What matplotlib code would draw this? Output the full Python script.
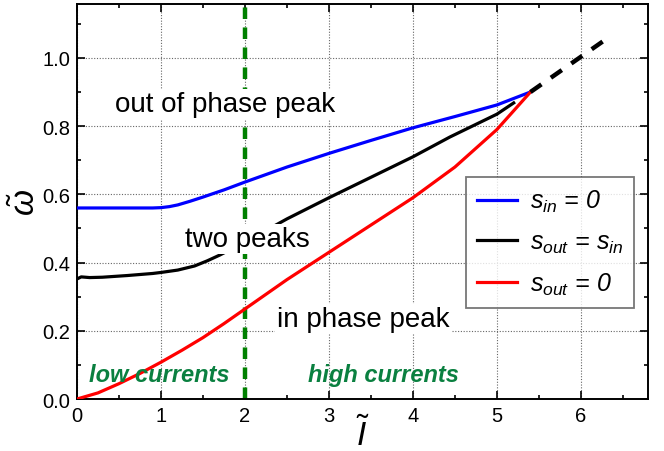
import matplotlib
matplotlib.use("Agg")
import matplotlib.pyplot as plt
from matplotlib.ticker import MultipleLocator

plt.rcParams['font.family'] = ['Liberation Sans', 'DejaVu Sans']
plt.rcParams['mathtext.fontset'] = 'custom'
plt.rcParams['mathtext.rm'] = 'Liberation Sans'
plt.rcParams['mathtext.it'] = 'Liberation Sans:italic'
plt.rcParams['mathtext.bf'] = 'Liberation Sans:bold'

# Data
blue_x = [0.0, 0.5, 0.9, 1.0, 1.1, 1.2, 1.35, 1.5, 1.75, 2.0, 2.5, 3.0, 3.5, 4.0, 4.5, 5.0, 5.4]
blue_y = [0.56, 0.56, 0.56, 0.561, 0.564, 0.569, 0.58, 0.592, 0.613, 0.636, 0.68, 0.72, 0.758, 0.795, 0.828, 0.862, 0.90]

black_x = [0.0, 0.05, 0.15, 0.3, 0.6, 0.9, 1.0, 1.2, 1.4, 1.55, 1.7, 2.0, 2.5, 3.0, 3.5, 4.0, 4.44, 5.0, 5.2]
black_y = [0.352, 0.358, 0.356, 0.357, 0.362, 0.368, 0.371, 0.378, 0.39, 0.405, 0.422, 0.46, 0.528, 0.59, 0.65, 0.71, 0.768, 0.835, 0.868]

red_x = [0.0, 0.25, 0.5, 0.75, 1.0, 1.25, 1.5, 1.75, 2.0, 2.5, 3.0, 3.5, 4.0, 4.5, 5.0, 5.4]
red_y = [0.0, 0.018, 0.045, 0.075, 0.108, 0.143, 0.18, 0.221, 0.264, 0.35, 0.43, 0.51, 0.59, 0.68, 0.79, 0.90]

dash_x = [5.4, 6.33]
dash_y = [0.90, 1.06]

boundary_x = 2.0

legend_labels = [r'$s_{in}$ = 0', r'$s_{out}$ = $s_{in}$', r'$s_{out}$ = 0']

fig = plt.figure(figsize=(6.64, 4.52), dpi=100)
ax = fig.add_axes([0.116, 0.115, 0.86, 0.874])

green_line = '#008000'
green_text = '#0a8040'

ax.axvline(boundary_x, color=green_line, lw=3.2, dashes=(2.6, 1.9), zorder=2)

l1, = ax.plot(blue_x, blue_y, color='#0000ff', lw=2.3, zorder=3)
l2, = ax.plot(black_x, black_y, color='black', lw=2.3, zorder=3)
l3, = ax.plot(red_x, red_y, color='#ff0000', lw=2.3, zorder=3)
ax.plot(dash_x, dash_y, color='black', lw=3.2, dashes=(3.0, 2.6), zorder=3)

bb = dict(facecolor='white', edgecolor='none', pad=1.5)
ax.text(0.45, 0.845, 'out of phase peak', fontsize=20, va='baseline', ha='left', bbox=bb, zorder=4)
ax.text(1.285, 0.449, 'two peaks', fontsize=20, va='baseline', ha='left', bbox=bb, zorder=4)
ax.text(2.38, 0.214, 'in phase peak', fontsize=20, va='baseline', ha='left', bbox=bb, zorder=4)

ax.text(0.14, 0.053, 'low currents', fontsize=17, fontweight='bold', fontstyle='italic',
        color=green_text, va='baseline', ha='left', zorder=4)
ax.text(2.75, 0.053, 'high currents', fontsize=17, fontweight='bold', fontstyle='italic',
        color=green_text, va='baseline', ha='left', zorder=4)

ax.set_xlim(0, 6.8)
ax.set_ylim(0, 1.158)
ax.xaxis.set_major_locator(MultipleLocator(1))
ax.xaxis.set_minor_locator(MultipleLocator(0.5))
ax.yaxis.set_major_locator(MultipleLocator(0.2))
ax.yaxis.set_minor_locator(MultipleLocator(0.1))
ax.yaxis.set_major_formatter(matplotlib.ticker.FormatStrFormatter('%.1f'))

ax.tick_params(which='both', direction='in', top=True, right=True, labelsize=14.5, width=1.2)
ax.tick_params(which='major', length=6, pad=5)
ax.tick_params(which='minor', length=3)
for s in ax.spines.values():
    s.set_linewidth(1.4)

ax.grid(True, which='major', linestyle=(0, (1, 1.5)), color='#666666', lw=0.8)
ax.set_axisbelow(True)

ax.set_xlabel(r'$\tilde{I}$', fontsize=24, labelpad=-6)
ax.set_ylabel(r'$\tilde{\omega}$', fontsize=24, labelpad=0)

leg = ax.legend([l1, l2, l3], legend_labels, loc='upper left',
                bbox_to_anchor=(0.681, 0.562), prop={'size': 18, 'style': 'italic'},
                frameon=True, fancybox=False, edgecolor='#555555', handlelength=1.6,
                handletextpad=0.5, borderpad=0.45, labelspacing=0.62, borderaxespad=0)
leg.get_frame().set_linewidth(1.3)

fig.savefig('out.png', dpi=100)
